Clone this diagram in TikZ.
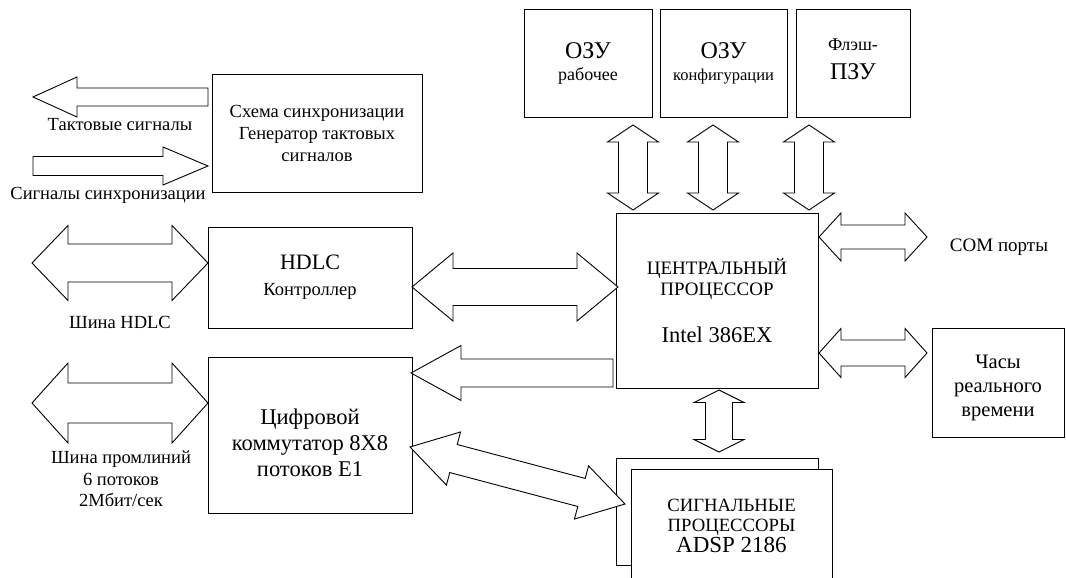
\documentclass[tikz,border=0pt]{standalone}
\usepackage{fontspec}
\setmainfont{Liberation Serif}
\usetikzlibrary{calc}
\newcommand{\fsz}[2]{\fontsize{#1}{#2}\selectfont}
% double block arrow: start, end, shaft half-width, head half-width, head length
\newcommand{\busarrow}[5]{%
  \draw[blockarrow] (#1)
    -- ($(#1)!#5!(#2)!#4!90:(#2)$) -- ($(#1)!#5!(#2)!#3!90:(#2)$)
    -- ($(#2)!#5!(#1)!#3!-90:(#1)$) -- ($(#2)!#5!(#1)!#4!-90:(#1)$)
    -- (#2)
    -- ($(#2)!#5!(#1)!#4!90:(#1)$) -- ($(#2)!#5!(#1)!#3!90:(#1)$)
    -- ($(#1)!#5!(#2)!#3!-90:(#2)$) -- ($(#1)!#5!(#2)!#4!-90:(#2)$)
    -- cycle;}
% single block arrow: tail, tip, shaft half-width, head half-width, head length
\newcommand{\sigarrow}[5]{%
  \draw[blockarrow] ($(#1)!#3!90:(#2)$)
    -- ($(#2)!#5!(#1)!#3!-90:(#1)$) -- ($(#2)!#5!(#1)!#4!-90:(#1)$)
    -- (#2)
    -- ($(#2)!#5!(#1)!#4!90:(#1)$) -- ($(#2)!#5!(#1)!#3!90:(#1)$)
    -- ($(#1)!#3!-90:(#2)$)
    -- cycle;}

\begin{document}
\begin{tikzpicture}[x=1pt, y=-1pt]
  \tikzset{
    block/.style={draw, line width=0.9pt, fill=white, inner sep=0pt, align=center, font=\fsz{18}{22}},
    boxtext/.style={inner sep=0pt, align=center},
    blockarrow/.style={draw, line width=0.9pt, fill=white, line join=miter},
    caption/.style={inner sep=0pt, align=center, font=\fsz{18.5}{21.5}}
  }
  \clip (0,0) rectangle (1066,578);

  \node[block, minimum width=210pt, minimum height=118pt, font=\fsz{18.5}{22}] (sync) at (317,133)
    {Схема синхронизации\\Генератор тактовых\\сигналов};
  \node[block, minimum width=128pt, minimum height=108pt] (ram1) at (588,63)
    {{\fsz{24}{25}ОЗУ}\\рабочее};
  \node[block, minimum width=127pt, minimum height=108pt] (ram2) at (723.5,63)
    {{\fsz{24}{25}ОЗУ}\\\fsz{16.5}{25}конфигурации};
  \node[block, minimum width=114pt, minimum height=108pt] (flash) at (853,63) {};
  \node[boxtext, font=\fsz{18}{25}] (flashtxt) at ([yshift=4pt]flash.center)
    {Флэш-\\[4pt]{\fsz{24}{25}ПЗУ}};
  \node[block, minimum width=202pt, minimum height=175pt, font=\fsz{19}{21}] (cpu) at (717,300.5)
    {ЦЕНТРАЛЬНЫЙ\\ПРОЦЕССОР\\[26pt]{\fsz{22.5}{21}Intel 386EX}};
  \node[block, minimum width=204pt, minimum height=101pt, font=\fsz{18.5}{26}] (hdlc) at (310,277.5)
    {{\fsz{22}{26}HDLC}\\Контроллер};
  \node[block, minimum width=204pt, minimum height=156pt] (sw) at (310,435) {};
  \node[boxtext, font=\fsz{22.5}{26}] (swtxt) at ([yshift=-8pt]sw.center)
    {Цифровой\\коммутатор 8X8\\потоков Е1};
  \node[block, minimum width=202pt, minimum height=107pt] (dspback) at (717,511.5) {};
  \node[block, minimum width=201pt, minimum height=113pt, font=\fsz{18.7}{20.5}] (dsp) at (731.5,525.5)
    {СИГНАЛЬНЫЕ\\ПРОЦЕССОРЫ\\{\fsz{23}{20}ADSP 2186}};
  \node[block, minimum width=132pt, minimum height=109pt] (clock) at (998,382.5) {};
  \node[boxtext, font=\fsz{20.5}{24}] (clocktxt) at ([yshift=-5pt]clock.center)
    {Часы\\реального\\времени};

  \node[caption] (clkout) at (120,125) {Тактовые сигналы};
  \node[caption] (syncin) at (108,195) {Сигналы синхронизации};
  \node[caption] (hdlcbus) at (120,322) {Шина HDLC};
  \node[caption] (e1bus) at (121,479) {Шина промлиний\\6 потоков\\2Мбит/сек};
  \node[caption, font=\fsz{19}{22}] (com) at (999,247) {COM порты};

  \coordinate (c1a) at (208,97);   \coordinate (c1b) at (33,97);
  \coordinate (c2a) at (33,166);   \coordinate (c2b) at (208,166);
  \coordinate (h1a) at (32,263);   \coordinate (h1b) at (208,263);
  \coordinate (e1a) at (32,403);   \coordinate (e1b) at (208,403);
  \coordinate (h2a) at (412,287);  \coordinate (h2b) at (618,287);
  \coordinate (s1a) at (613,373);  \coordinate (s1b) at (411,373);
  \coordinate (d1a) at (410,447);  \coordinate (d1b) at (625,504);
  \coordinate (m1a) at (633,125);  \coordinate (m1b) at (633,210);
  \coordinate (m2a) at (713,125);  \coordinate (m2b) at (713,210);
  \coordinate (m3a) at (809,125);  \coordinate (m3b) at (809,210);
  \coordinate (d2a) at (719,390);  \coordinate (d2b) at (719,452);
  \coordinate (p1a) at (819,237);  \coordinate (p1b) at (927,237);
  \coordinate (p2a) at (819,353);  \coordinate (p2b) at (927,353);

  \sigarrow{c1a}{c1b}{9pt}{20pt}{44pt}
  \sigarrow{c2a}{c2b}{9.5pt}{19pt}{45pt}
  \busarrow{h1a}{h1b}{19pt}{37.5pt}{36pt}
  \busarrow{e1a}{e1b}{20pt}{40pt}{36pt}
  \busarrow{h2a}{h2b}{18.5pt}{34pt}{41pt}
  \sigarrow{s1a}{s1b}{14pt}{27.5pt}{50pt}
  \busarrow{d1a}{d1b}{14.5pt}{27.5pt}{45pt}
  \busarrow{m1a}{m1b}{14.5pt}{25.5pt}{17pt}
  \busarrow{m2a}{m2b}{14.5pt}{25.5pt}{17pt}
  \busarrow{m3a}{m3b}{14.5pt}{25.5pt}{17pt}
  \busarrow{d2a}{d2b}{13.5pt}{25pt}{12.5pt}
  \busarrow{p1a}{p1b}{12pt}{24pt}{22pt}
  \busarrow{p2a}{p2b}{13pt}{24.5pt}{22pt}
\end{tikzpicture}
\end{document}
